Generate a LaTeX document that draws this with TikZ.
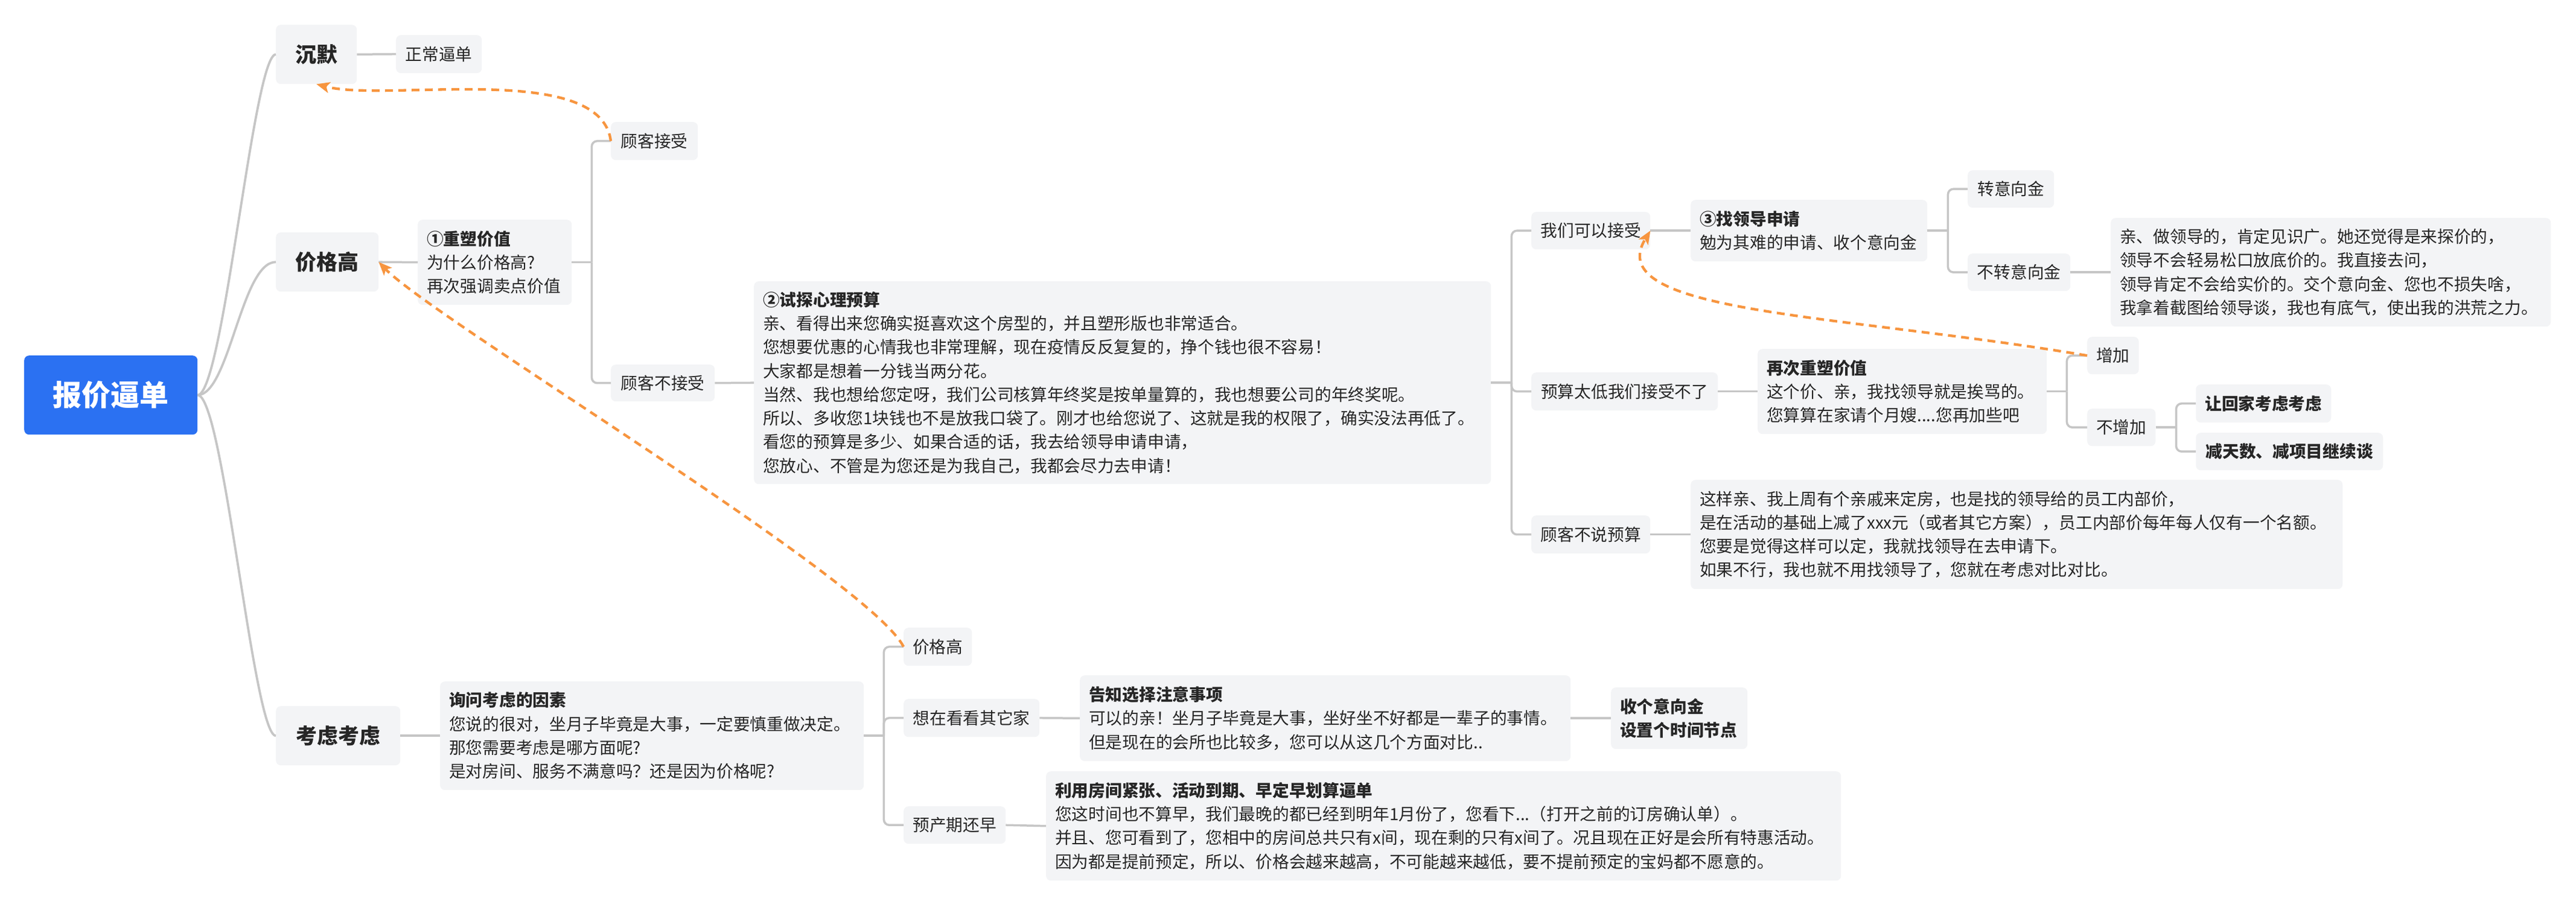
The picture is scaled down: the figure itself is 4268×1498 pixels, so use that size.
\documentclass[tikz,border=0pt]{standalone}
\usepackage{fontspec}
\setmainfont{Noto Sans CJK SC}
\usetikzlibrary{arrows.meta}
\definecolor{boxbg}{HTML}{F3F4F6}
\definecolor{lnc}{HTML}{C6C6C6}
\definecolor{org}{HTML}{F7953F}
\definecolor{rootc}{HTML}{2B71F2}
\definecolor{txt}{HTML}{262626}
\newcommand\fsN{\fontsize{27.7pt}{39.3pt}\selectfont}
\newcommand\fsL{\fontsize{35pt}{42pt}\selectfont\bfseries}
\newcommand\fsR{\fontsize{48pt}{56pt}\selectfont\bfseries}
\begin{document}
\begin{tikzpicture}[x=1pt,y=-1pt,
  box/.style={fill=boxbg, rounded corners=8pt, inner xsep=15pt, inner ysep=4pt, anchor=north west, font=\fsN, text=txt},
  mbox/.style={box, align=left},
  lvl/.style={box, font=\fsL},
  rootbox/.style={box, fill=rootc, text=white, font=\fsR},
  link/.style={draw=lnc, line width=3.5pt, rounded corners=9pt},
  curve/.style={draw=lnc, line width=3.8pt},
  back/.style={draw=org, line width=4.3pt, dash pattern=on 13pt off 9pt, -{Stealth[length=22pt,width=18pt,inset=5pt]}}
]
\fill[white] (0,0) rectangle (4268,1498);
\useasboundingbox (0,0) rectangle (4268,1498);

% root and level 1
\node[rootbox, minimum width=287pt, minimum height=131pt] (root) at (40,589) {报价逼单};
\node[lvl, minimum width=134pt, minimum height=98pt] (chenmo) at (457,41) {沉默};
\node[lvl, minimum width=170pt, minimum height=98pt] (jgg) at (457,385) {价格高};
\node[lvl, minimum width=206pt, minimum height=98pt] (klkl) at (457,1170) {考虑考虑};

% branch 沉默
\node[box, minimum width=142pt, minimum height=63pt] (zcbd) at (656,58) {正常逼单};

% branch 价格高
\node[mbox, text width=225pt, minimum height=141pt] (cs1) at (692,364) {\textbf{①重塑价值}\\为什么价格高?\\再次强调卖点价值};
\node[box, minimum width=144pt, minimum height=63pt] (jieshou) at (1012,202) {顾客接受};
\node[box, minimum width=172pt, minimum height=61pt] (bujieshou) at (1012,604) {顾客不接受};
\node[mbox, text width=1191pt, minimum height=336pt] (ts2) at (1249,466) {\textbf{②试探心理预算}\\亲、看得出来您确实挺喜欢这个房型的，并且塑形版也非常适合。\\您想要优惠的心情我也非常理解，现在疫情反反复复的，挣个钱也很不容易！\\大家都是想着一分钱当两分花。\\当然、我也想给您定呀，我们公司核算年终奖是按单量算的，我也想要公司的年终奖呢。\\所以、多收您1块钱也不是放我口袋了。刚才也给您说了、这就是我的权限了，确实没法再低了。\\看您的预算是多少、如果合适的话，我去给领导申请申请，\\您放心、不管是为您还是为我自己，我都会尽力去申请！};
\node[box, minimum width=197pt, minimum height=62pt] (kyjs) at (2537,351) {我们可以接受};
\node[box, minimum width=309pt, minimum height=63pt] (ysdl) at (2537,617) {预算太低我们接受不了};
\node[box, minimum width=197pt, minimum height=63pt] (bsys) at (2537,854) {顾客不说预算};
\node[mbox, text width=362pt, minimum height=102pt] (zld3) at (2801,331) {\textbf{③找领导申请}\\勉为其难的申请、收个意向金};
\node[box, minimum width=143pt, minimum height=62pt] (zyxj) at (3260,282) {转意向金};
\node[box, minimum width=170pt, minimum height=62pt] (bzyxj) at (3260,420) {不转意向金};
\node[mbox, text width=699pt, minimum height=180pt] (txt1) at (3497,361) {亲、做领导的，肯定见识广。她还觉得是来探价的，\\领导不会轻易松口放底价的。我直接去问，\\领导肯定不会给实价的。交个意向金、您也不损失啥，\\我拿着截图给领导谈，我也有底气，使出我的洪荒之力。};
\node[mbox, text width=449pt, minimum height=141pt] (cscs) at (2912,578) {\textbf{再次重塑价值}\\这个价、亲，我找领导就是挨骂的。\\您算算在家请个月嫂....您再加些吧};
\node[box, minimum width=85pt, minimum height=62pt] (zj) at (3458,558) {增加};
\node[box, minimum width=113pt, minimum height=62pt] (bzj) at (3458,677) {不增加};
\node[box, minimum width=224pt, minimum height=63pt] (rhj) at (3638,637) {\textbf{让回家考虑考虑}};
\node[box, minimum width=310pt, minimum height=62pt] (jts) at (3638,717) {\textbf{减天数、减项目继续谈}};
\node[mbox, text width=1050pt, minimum height=181pt] (txt2) at (2801,795) {这样亲、我上周有个亲戚来定房，也是找的领导给的员工内部价，\\是在活动的基础上减了xxx元（或者其它方案），员工内部价每年每人仅有一个名额。\\您要是觉得这样可以定，我就找领导在去申请下。\\如果不行，我也就不用找领导了，您就在考虑对比对比。};

% branch 考虑考虑
\node[mbox, text width=672pt, minimum height=180pt] (xw) at (729,1129) {\textbf{询问考虑的因素}\\您说的很对，坐月子毕竟是大事，一定要慎重做决定。\\那您需要考虑是哪方面呢?\\是对房间、服务不满意吗？还是因为价格呢?};
\node[box, minimum width=113pt, minimum height=63pt] (jgg2) at (1497,1040) {价格高};
\node[box, minimum width=225pt, minimum height=63pt] (xzkk) at (1497,1158) {想在看看其它家};
\node[box, minimum width=169pt, minimum height=62pt] (ycq) at (1497,1336) {预产期还早};
\node[mbox, text width=783pt, minimum height=142pt] (gz) at (1789,1119) {\textbf{告知选择注意事项}\\可以的亲！坐月子毕竟是大事，坐好坐不好都是一辈子的事情。\\但是现在的会所也比较多，您可以从这几个方面对比..};
\node[mbox, text width=196pt, minimum height=102pt] (sgyx) at (2669,1139) {\textbf{收个意向金}\\\textbf{设置个时间节点}};
\node[mbox, text width=1287pt, minimum height=181pt] (ly) at (1733,1278) {\textbf{利用房间紧张、活动到期、早定早划算逼单}\\您这时间也不算早，我们最晚的都已经到明年1月份了，您看下...（打开之前的订房确认单）。\\并且、您可看到了，您相中的房间总共只有x间，现在剩的只有x间了。况且现在正好是会所有特惠活动。\\因为都是提前预定，所以、价格会越来越高，不可能越来越低，要不提前预定的宝妈都不愿意的。};

% root curves
\draw[curve] (root.east) .. controls (370,654) and (420,90) .. (chenmo.west);
\draw[curve] (root.east) .. controls (380,654) and (400,434) .. (jgg.west);
\draw[curve] (root.east) .. controls (370,654) and (420,1219) .. (klkl.west);

% straight links
\draw[link] (chenmo.east) -- (zcbd.west);
\draw[link] (jgg.east) -- (cs1.west);
\draw[link] (bujieshou.east) -- (ts2.west);
\draw[link] (kyjs.east) -- (zld3.west);
\draw[link] (bzyxj.east) -- (txt1.west);
\draw[link] (ysdl.east) -- (cscs.west);
\draw[link] (bsys.east) -- (txt2.west);
\draw[link] (klkl.east) -- (xw.west);
\draw[link] (xzkk.east) -- (gz.west);
\draw[link] (gz.east) -- (sgyx.west);
\draw[link] (ycq.east) -- (ly.west);

% forks
\draw[link] (cs1.east) -- ++(33,0) coordinate (t1);
\draw[link] (t1) |- (jieshou.west);
\draw[link] (t1) |- (bujieshou.west);

\draw[link] (ts2.east) -- ++(34,0) coordinate (t2);
\draw[link] (t2) |- (kyjs.west);
\draw[link] (t2) |- (ysdl.west);
\draw[link] (t2) |- (bsys.west);

\draw[link] (zld3.east) -- ++(34,0) coordinate (t3);
\draw[link] (t3) |- (zyxj.west);
\draw[link] (t3) |- (bzyxj.west);

\draw[link] (cscs.east) -- ++(33,0) coordinate (t4);
\draw[link] (t4) |- (zj.west);
\draw[link] (t4) |- (bzj.west);

\draw[link] (bzj.east) -- ++(34,0) coordinate (t5);
\draw[link] (t5) |- (rhj.west);
\draw[link] (t5) |- (jts.west);

\draw[link] (xw.east) -- ++(33,0) coordinate (t6);
\draw[link] (t6) |- (jgg2.west);
\draw[link] (t6) |- (xzkk.west);
\draw[link] (t6) |- (ycq.west);

% dashed back-references
\draw[back] (jieshou.west) .. controls (995,100) and (640,170) .. (chenmo.south);
\draw[back] (jgg2.west) .. controls (1440,960) and (720,530) .. (jgg.east);
\draw[back] (zj.west) .. controls (3050,520) and (2650,520) .. (kyjs.east);
\end{tikzpicture}
\end{document}
